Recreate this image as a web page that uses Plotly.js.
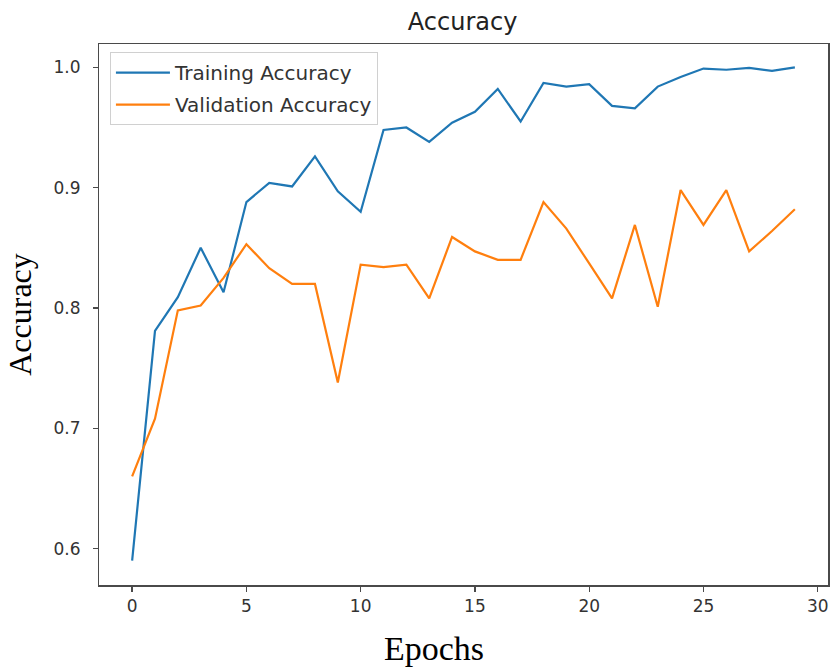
<!DOCTYPE html>
<html>
<head>
<meta charset="utf-8">
<script src="https://cdn.plot.ly/plotly-3.0.1.min.js"></script>
<style>html,body{margin:0;padding:0;background:#fff;}#chart{width:832px;height:668px;}</style>
</head>
<body>
<div id="chart"></div>
<script>
const epochs = [0,1,2,3,4,5,6,7,8,9,10,11,12,13,14,15,16,17,18,19,20,21,22,23,24,25,26,27,28,29];
const trainingAccuracy = [0.590,0.781,0.809,0.850,0.813,0.888,0.904,0.901,0.926,0.897,0.880,0.948,0.950,0.938,0.954,0.963,0.982,0.955,0.987,0.984,0.986,0.968,0.966,0.984,0.992,0.999,0.998,0.9995,0.997,1.000];
const validationAccuracy = [0.660,0.708,0.798,0.802,0.825,0.853,0.833,0.820,0.820,0.738,0.836,0.834,0.836,0.808,0.859,0.847,0.840,0.840,0.888,0.866,0.837,0.808,0.869,0.801,0.898,0.869,0.898,0.847,0.864,0.882];
const xTicks = [0,5,10,15,20,25,30];
const yTicks = [0.6,0.7,0.8,0.9,1.0];
const yTickLabels = ['0.6','0.7','0.8','0.9','1.0'];

const traces = [
  {x: epochs, y: trainingAccuracy, type: 'scatter', mode: 'lines', name: 'Training Accuracy',
   legendgroup: 'a', line: {color: '#1f77b4', width: 2.2}},
  {x: epochs, y: validationAccuracy, type: 'scatter', mode: 'lines', name: 'Validation Accuracy',
   legendgroup: 'b', line: {color: '#ff7f0e', width: 2.2}}
];

const tickFont = {family: 'DejaVu Sans', size: 17, color: '#333'};
const layout = {
  width: 832, height: 668,
  margin: {l: 99, r: 4, t: 44, b: 83, pad: 0},
  paper_bgcolor: '#fff', plot_bgcolor: '#fff',
  title: {text: 'Accuracy', font: {family: 'DejaVu Sans', size: 24, color: '#222'},
          x: 0.556, xanchor: 'center', y: 0.968, yanchor: 'middle', yref: 'container'},
  xaxis: {range: [-1.45, 30.45], tickvals: xTicks, ticktext: xTicks.map(String),
          showgrid: false, zeroline: false, showline: true, mirror: true,
          linecolor: '#4a4a4a', linewidth: 1.5, ticks: 'outside', ticklen: 5, tickwidth: 1.3, tickcolor: '#4a4a4a',
          tickfont: tickFont},
  yaxis: {range: [0.5697, 1.0194], tickvals: yTicks, ticktext: yTickLabels.map(t => t + '\u2002'),
          showgrid: false, zeroline: false, showline: true, mirror: true,
          linecolor: '#4a4a4a', linewidth: 1.5, ticks: 'outside', ticklen: 5, tickwidth: 1.3, tickcolor: '#4a4a4a',
          tickfont: tickFont,
          title: {text: 'Accuracy', font: {family: 'Liberation Serif', size: 32, color: '#000'}, standoff: 12}},
  annotations: [
    {text: 'Epochs', xref: 'paper', yref: 'paper', x: 0.4595, y: -0.117, xanchor: 'center', yanchor: 'middle',
     showarrow: false, font: {family: 'Liberation Serif', size: 34, color: '#000'}}
  ],
  showlegend: true,
  legend: {x: 0.015, y: 0.985, xanchor: 'left', yanchor: 'top',
           bgcolor: 'rgba(255,255,255,0.85)', bordercolor: '#d0d0d0', borderwidth: 1,
           font: {family: 'DejaVu Sans', size: 20, color: '#333'},
           traceorder: 'grouped', tracegroupgap: 3, itemwidth: 54}
};

Plotly.newPlot('chart', traces, layout, {displayModeBar: false, staticPlot: true});
</script>
</body>
</html>
